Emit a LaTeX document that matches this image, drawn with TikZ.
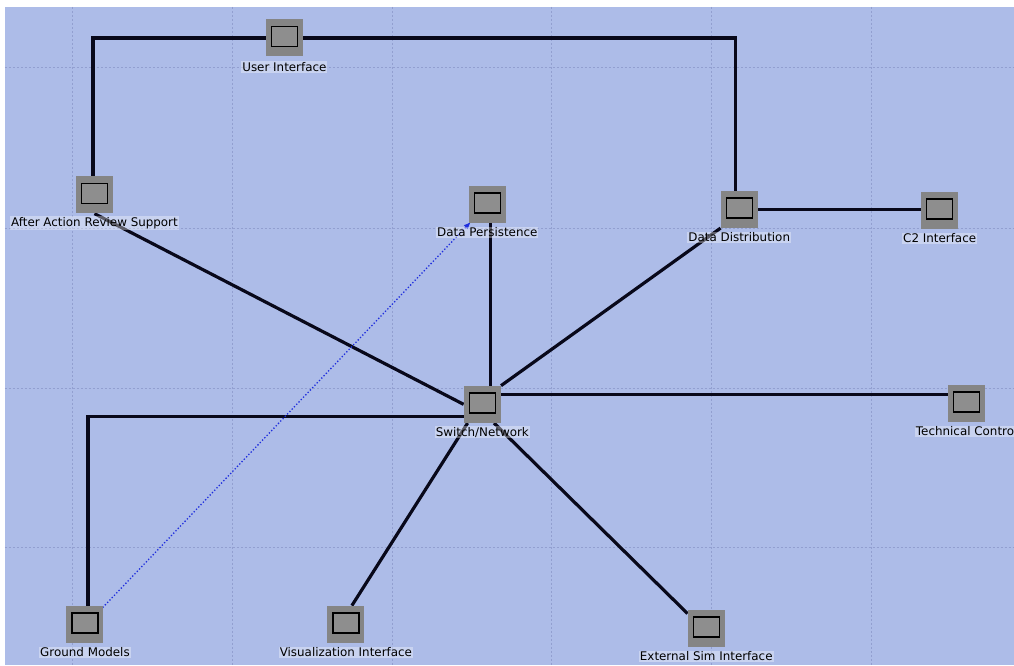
\documentclass[tikz,border=0pt]{standalone}
\usepackage{fontspec}
\setmainfont{DejaVu Sans}
\usetikzlibrary{arrows.meta}
\definecolor{canvas}{HTML}{ADBCE8}
\definecolor{gridln}{HTML}{929FD0}
\definecolor{boxout}{HTML}{858585}
\definecolor{boxin}{HTML}{8E8E8E}
\definecolor{wire}{HTML}{08081A}
\definecolor{dotlink}{HTML}{1F2EDD}
\pgfdeclarelayer{bg}
\pgfdeclarelayer{wires}
\pgfsetlayers{bg,wires,main}
\tikzset{
  device/.style={rectangle, fill=boxout, minimum width=37pt, minimum height=37pt, inner sep=0pt,
    path picture={\draw[line width=1.5pt, fill=boxin]
      ([shift={(-13pt,-8.5pt)}]path picture bounding box.center) rectangle ++(26pt,20pt);}},
  lbl/.style={fill=white, fill opacity=0.35, text opacity=1, inner sep=1pt,
    font=\fontsize{11.9}{13}\selectfont, anchor=center},
  link/.style={draw=wire, line width=3.2pt},
  gridline/.style={draw=gridln, line width=0.7pt, dash pattern=on 2pt off 2pt},
}
\begin{document}
\begin{tikzpicture}[x=1pt, y=-1pt]
  % devices
  \node[device] (UI) at (284.5,38) {};
  \node[device] (AAR) at (94.5,195) {};
  \node[device] (DP) at (487.5,204.5) {};
  \node[device] (DD) at (739.5,209.5) {};
  \node[device] (C2) at (940,210.5) {};
  \node[device] (SW) at (482.5,404.5) {};
  \node[device] (TC) at (967,403.5) {};
  \node[device] (GM) at (85,624.5) {};
  \node[device] (VI) at (346,624.5) {};
  \node[device] (ES) at (706.5,628.5) {};

  % canvas, margins and background grid
  \begin{pgfonlayer}{bg}
    \fill[white] (0,0) rectangle (1014,665);
    \fill[canvas] (5,7) rectangle (1014,665);
    \foreach \gx in {72,232,392,552,712,872} \draw[gridline] (\gx,7) -- (\gx,665);
    \foreach \gy in {67,228,388,548} \draw[gridline] (5,\gy) -- (1014,\gy);
  \end{pgfonlayer}
  \useasboundingbox (0,0) rectangle (1014,665);

  % wiring behind the devices
  \begin{pgfonlayer}{wires}
    \path[link] (UI.west) -| ([xshift=-1.5pt]AAR.north);
    \path[link] (UI.east) -| ([xshift=-3.5pt]DD.north);
    \path[link] (AAR.south) -- (SW.west);
    \path[link] ([xshift=3.5pt]DP.south) -- ([xshift=3.5pt]DP.south |- SW.north);
    \path[link] (DD.south west) -- (SW.north east);
    \path[link] (DD.east) -- (DD.east -| C2.west);
    \path[link] ([yshift=9.5pt]SW.east) -- ([yshift=9.5pt]SW.east -| TC.west);
    \path[link] ([yshift=-12pt]SW.west) -| ([xshift=3pt]GM.north);
    \path[link] ([xshift=4pt]SW.south west) -- ([xshift=6pt]VI.north);
    \path[link] ([xshift=-7pt]SW.south east) -- ([yshift=-4pt]ES.north west);
    \draw[dotlink, line width=1.3pt, dash pattern=on 1.3pt off 2pt, -{Latex[length=7pt,width=6pt]}]
      ([shift={(-1pt,-2pt)}]GM.north east) -- ([shift={(2pt,1pt)}]DP.south west);
  \end{pgfonlayer}

  % captions
  \node[lbl] (UIl) at ([yshift=-29pt]UI.center) {User Interface};
  \node[lbl] (AARl) at ([yshift=-28pt]AAR.center) {After Action Review Support};
  \node[lbl] (DPl) at ([yshift=-28pt]DP.center) {Data Persistence};
  \node[lbl] (DDl) at ([yshift=-28pt]DD.center) {Data Distribution};
  \node[lbl] (C2l) at ([yshift=-28pt]C2.center) {C2 Interface};
  \node[lbl] (SWl) at ([yshift=-28pt]SW.center) {Switch/Network};
  \node[lbl] (TCl) at ([yshift=-28pt]TC.center) {Technical Control};
  \node[lbl] (GMl) at ([yshift=-28pt]GM.center) {Ground Models};
  \node[lbl] (VIl) at ([yshift=-28pt]VI.center) {Visualization Interface};
  \node[lbl] (ESl) at ([yshift=-28pt]ES.center) {External Sim Interface};
\end{tikzpicture}
\end{document}
